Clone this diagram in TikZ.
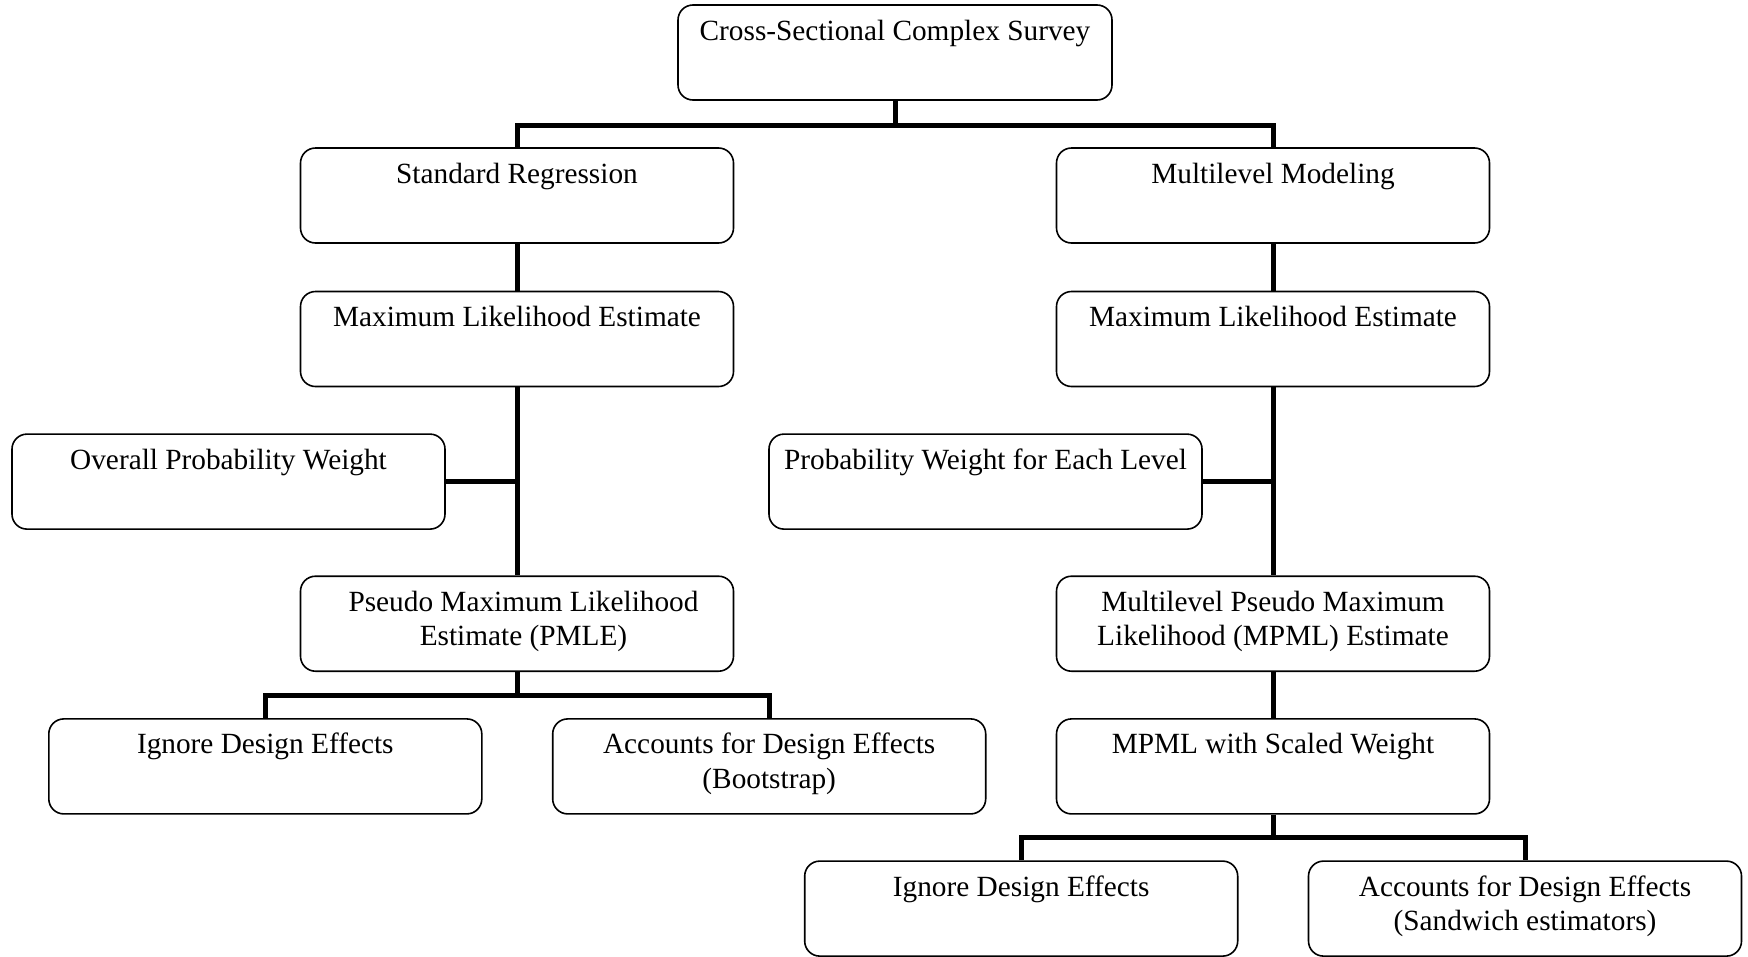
\documentclass[tikz,border=0pt]{standalone}
\usepackage{fontspec}
\setmainfont{Liberation Serif}
\newcommand\bxt[1]{\parbox[c][95pt][t]{433pt}{\centering\fontsize{29.3}{34.5}\selectfont\vspace*{10.85pt}\strut#1\strut}}
\tikzset{
  bx/.style={draw, line width=1.6pt, rounded corners=15pt, inner sep=0pt, minimum width=433pt, minimum height=95pt},
  conn/.style={line width=5pt, line join=miter}
}
\begin{document}
\begin{tikzpicture}[x=1pt,y=-1pt]
\useasboundingbox (0,0) rectangle (1748,956);
\node[bx, minimum width=434pt] (top) at (895,52.5) {\bxt{Cross-Sectional Complex Survey}};
\node[bx] (sr) at (517,195.5) {\bxt{Standard Regression}};
\node[bx] (ml) at (1273,195.5) {\bxt{Multilevel Modeling}};
\node[bx] (mleL) at (517,339) {\bxt{Maximum Likelihood Estimate}};
\node[bx] (mleR) at (1273,339) {\bxt{Maximum Likelihood Estimate}};
\node[bx] (opw) at (228.5,481.6) {\bxt{Overall Probability Weight}};
\node[bx] (pwel) at (985.5,481.6) {\bxt{Probability Weight for Each Level}};
\node[bx] (pmle) at (517,623.7) {\bxt{\hspace*{13pt}Pseudo Maximum Likelihood\\\hspace*{13pt}Estimate (PMLE)}};
\node[bx] (mpml) at (1273,623.7) {\bxt{Multilevel Pseudo Maximum\\Likelihood (MPML) Estimate}};
\node[bx] (ignL) at (265.3,766.4) {\bxt{Ignore Design Effects}};
\node[bx] (boot) at (769.2,766.4) {\bxt{Accounts for Design Effects\\(Bootstrap)}};
\node[bx] (scaled) at (1273,766.4) {\bxt{MPML with Scaled Weight}};
\node[bx] (ignR) at (1021.2,908.6) {\bxt{Ignore Design Effects}};
\node[bx] (sand) at (1525,908.6) {\bxt{Accounts for Design Effects\\(Sandwich estimators)}};
\coordinate (h1) at (895,125);
\coordinate (h2) at (517,695);
\coordinate (h3) at (1273,837.5);
\draw[conn] (top.south) -- (h1);
\draw[conn] (sr.north) |- (h1) -| (ml.north);
\draw[conn] (sr.south) -- (mleL.north);
\draw[conn] (ml.south) -- (mleR.north);
\draw[conn] (mleL.south) -- (pmle.north);
\draw[conn] (mleR.south) -- (mpml.north);
\draw[conn] (opw.east) -- (opw.east -| mleL.south);
\draw[conn] (pwel.east) -- (pwel.east -| mleR.south);
\draw[conn] (pmle.south) -- (h2);
\draw[conn] (ignL.north) |- (h2) -| (boot.north);
\draw[conn] (mpml.south) -- (scaled.north);
\draw[conn] (scaled.south) -- (h3);
\draw[conn] (ignR.north) |- (h3) -| (sand.north);
\end{tikzpicture}
\end{document}
